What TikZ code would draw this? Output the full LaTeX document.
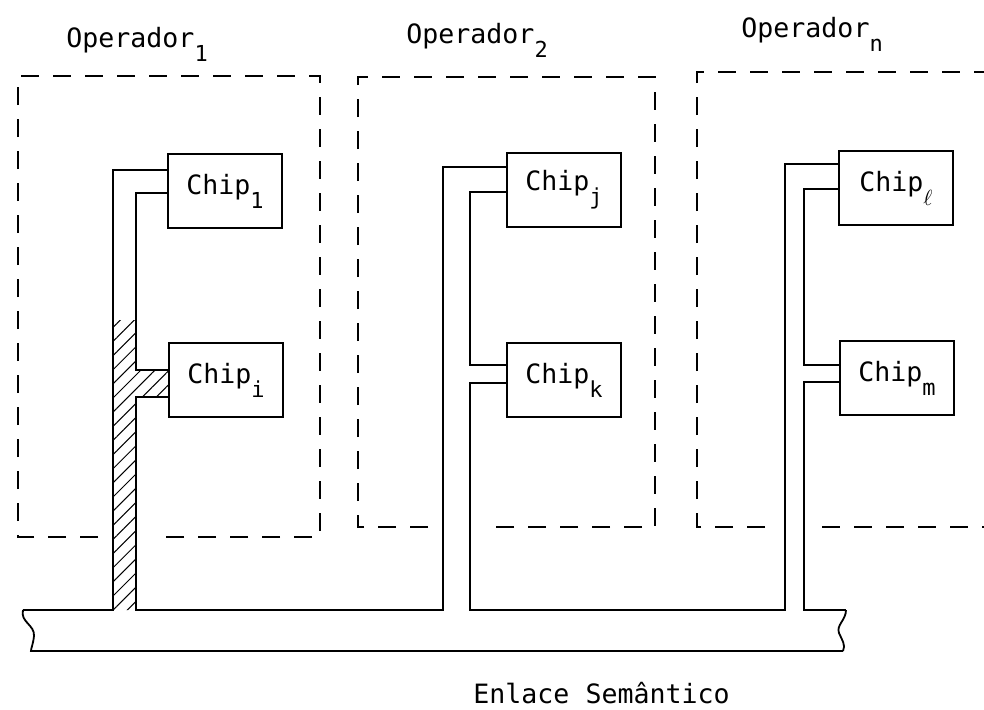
\documentclass[tikz,border=0pt]{standalone}
\usepackage{fontspec}
\setmonofont{DejaVu Sans Mono}
\usetikzlibrary{patterns.meta}

\newcommand\sub[1]{\raisebox{-7pt}{\fontsize{11}{12}\selectfont#1}}
\tikzset{
  opbox/.style={dash pattern=on 9pt off 7pt, line width=0.8pt},
  lbl/.style={font=\ttfamily\fontsize{13.3}{16}\selectfont, inner sep=0pt},
  chipbox/.style={lbl, draw, line width=0.9pt, minimum width=57pt, minimum height=37pt},
  wire/.style={line width=0.9pt},
  hatch/.style={pattern={Lines[angle=45,distance=5pt,line width=0.5pt]}}
}

\begin{document}
\begin{tikzpicture}[x=0.5pt,y=-0.5pt]
		\useasboundingbox (0,0) rectangle (984,709);
		\clip (0,0) rectangle (984,709);
		
		% cajas de los operadores
		\draw[opbox] (98,537) -| (18,76) -| (320,537) -- (158,537);
		\draw[opbox] (428,527) -| (358,77) -| (655,527) -- (483,527);
		\draw[opbox] (765,527) -| (697,72) -- (984,72);
		\draw[opbox] (822,527) -- (984,527);
		\node[lbl, anchor=base west] (op1) at (66,47) {Operador\sub{1}};
		\node[lbl, anchor=base west] (op2) at (406,43) {Operador\sub{2}};
		\node[lbl, anchor=base west] (opn) at (741,37) {Operador\sub{n}};
		
		% chips
		\node[chipbox] (c1) at (225,191) {Chip\sub{1}};
		\node[chipbox] (ci) at (226,380) {Chip\sub{i}};
		\node[chipbox] (cj) at (564,190) {Chip\sub{j}};
		\node[chipbox] (ck) at (564,380) {Chip\sub{k}};
		\node[chipbox] (cl) at (896,188) {Chip\sub{$\ell$}};
		\node[chipbox] (cm) at (897,378) {Chip\sub{m}};
		
		% patas de los chips
		\coordinate (p1a) at (c1.west |- 0,170);
		\coordinate (p1b) at (c1.west |- 0,193);
		\coordinate (pia) at (ci.west |- 0,370);
		\coordinate (pib) at (ci.west |- 0,397);
		\coordinate (pja) at (cj.west |- 0,167);
		\coordinate (pjb) at (cj.west |- 0,192);
		\coordinate (pka) at (ck.west |- 0,365);
		\coordinate (pkb) at (ck.west |- 0,383);
		\coordinate (pla) at (cl.west |- 0,164);
		\coordinate (plb) at (cl.west |- 0,189);
		\coordinate (pma) at (cm.west |- 0,365);
		\coordinate (pmb) at (cm.west |- 0,382);
		
		% extremos del enlace
		\coordinate (busL) at (23,610);
		\coordinate (busL2) at (31,651);
		\coordinate (busR) at (846,610);
		\coordinate (busR2) at (843,651);
		
		% zona rayada
		\fill[hatch] (113,320) -- (136,320) -- (136,370) -- (pia) -- (pib)
			-- (136,397) -- (136,610) -- (113,610) -- cycle;
		
		% conexiones
		\draw[wire] (busL) -| (113,170) -- (p1a);
		\draw[wire] (p1b) -| (136,370) -- (pia);
		\draw[wire] (pib) -| (136,610) -| (443,167) -- (pja);
		\draw[wire] (pjb) -| (470,365) -- (pka);
		\draw[wire] (pkb) -| (470,610) -| (785,164) -- (pla);
		\draw[wire] (plb) -| (804,365) -- (pma);
		\draw[wire] (pmb) -| (804,610) -- (busR);
		
		% enlace semantico
		\draw[wire] (busL) .. controls (20,622) and (35,625) .. (34,636)
			.. controls (33,645) and (31,648) .. (busL2) -- (busR2);
		\draw[wire] (busR) .. controls (846,620) and (836,625) .. (839,633)
			.. controls (842,640) and (846,645) .. (busR2);
		\node[lbl, anchor=base west] (enlace) at (473,703) {Enlace Semântico};
		
	\end{tikzpicture}
\end{document}
